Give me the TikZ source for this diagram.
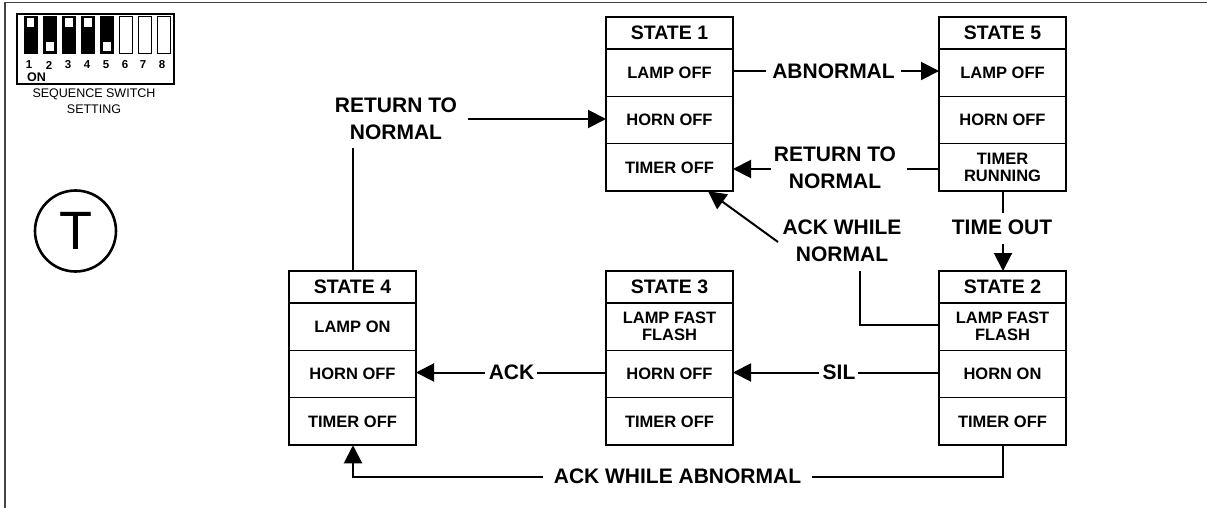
\documentclass[tikz,border=0pt]{standalone}
\usepackage{fontspec}
\setmainfont{Liberation Sans}
\usetikzlibrary{arrows.meta}
\definecolor{framegray}{HTML}{444444}
\tikzset{
  cell/.style={draw=black,line width=1.2pt,minimum width=127pt,minimum height=47.5pt,inner sep=0pt,outer sep=0pt,align=center,font=\bfseries\fontsize{16.5}{17.5}\selectfont},
  headcell/.style={cell,minimum height=32pt,font=\bfseries\fontsize{19.5}{21}\selectfont},
  boxframe/.style={draw=black,line width=2pt},
  conn/.style={draw=black,line width=2pt},
  arr/.style={conn,-{Triangle[length=18pt,width=18pt]}},
  lab/.style={inner sep=0pt,align=center,font=\bfseries\fontsize{21}{27}\selectfont},
  dipnum/.style={inner sep=0pt,font=\bfseries\fontsize{11.5}{12}\selectfont},
  dipsmall/.style={inner sep=0pt,align=center,font=\fontsize{12.5}{16}\selectfont},
  sw/.style={draw=black,line width=0.8pt,fill=white,minimum width=13.5pt,minimum height=37pt,inner sep=0pt},
  swon/.style={sw,fill=black},
  knob/.style={fill=white,draw=none,minimum width=7.5pt,minimum height=9pt,inner sep=0pt}
}
\newcommand{\statebox}[6]{%
  \node[headcell] (#1head) at (#2,#3+16) {#4};
  \node[cell] (#1lamp) at (#2,#3+55.5) {#5};
  \node[cell] (#1horn) at (#2,#3+103) {\strut};
  \node[cell] (#1timer) at (#2,#3+150.5) {#6};
  \draw[boxframe] (#1head.north west) rectangle (#1timer.south east);
  \draw[boxframe] (#1head.south west) -- (#1head.south east);
}
\begin{document}
\begin{tikzpicture}[x=1pt,y=-1pt]
\useasboundingbox (0,0) rectangle (1207,508);
\coordinate (ftl) at (5,2.5);
\coordinate (ftr) at (1207,2.5);
\coordinate (fbl) at (5,508);
\draw[framegray,line width=1.3pt] (fbl) -- (ftl) -- (ftr);

% DIP switch
\node[draw=black,line width=1.2pt,minimum width=157pt,minimum height=70pt,inner sep=0pt] (dip) at (95.5,49) {};
\foreach \n/\cx/\ky in {1/30.7/22.5,2/50/46.5,3/69/22.5,4/88/22.5,5/107/46.5}{
  \node[swon] (sw\n) at (\cx,34.5) {};
  \node[knob] (kn\n) at (\cx,\ky) {};
}
\foreach \n/\cx in {6/125.7,7/144.7,8/164}{
  \node[sw] (sw\n) at (\cx,34.5) {};
}
\foreach \n/\cx in {1/29,2/49,3/68,4/87,5/106,6/125,7/143,8/162}{
  \node[dipnum] (dn\n) at (\cx,65) {\n};
}
\node[dipnum,font=\bfseries\fontsize{12.5}{13}\selectfont] (don) at (36.5,77.5) {ON};
\node[dipsmall] (dtxt) at (94,101.5) {SEQUENCE SWITCH\\SETTING};

% T circle
\node[draw=black,line width=2.6pt,circle,minimum size=81pt,inner sep=0pt,font=\fontsize{54}{54}\selectfont] (tc) at (75.5,231) {T};

% State boxes
\statebox{sa}{669.5}{17}{STATE 1}{LAMP OFF}{TIMER OFF}
\statebox{se}{1002.5}{17}{STATE 5}{LAMP OFF}{\fontsize{16.5}{16.5}\selectfont TIMER\\RUNNING}
\statebox{sb}{1002.5}{271}{STATE 2}{LAMP FAST\\FLASH}{TIMER OFF}
\statebox{sc}{669.5}{271}{STATE 3}{LAMP FAST\\FLASH}{TIMER OFF}
\statebox{sd}{352.5}{271}{STATE 4}{LAMP ON}{TIMER OFF}
\node[cell,draw=none,fill=none] (t1) at (sahorn) {HORN OFF};
\node[cell,draw=none,fill=none] (t2) at (sehorn) {HORN OFF};
\node[cell,draw=none,fill=none] (t3) at (sbhorn) {HORN ON};
\node[cell,draw=none,fill=none] (t4) at (schorn) {HORN OFF};
\node[cell,draw=none,fill=none] (t5) at (sdhorn) {HORN OFF};

% Labels
\node[lab] (labn) at (833.5,71) {ABNORMAL};
\node[lab] (lrta) at (835,168) {RETURN TO\\NORMAL};
\node[lab] (ltime) at (1002,227) {TIME OUT};
\node[lab] (lack) at (842,241) {ACK WHILE\\NORMAL};
\node[lab] (lrtb) at (396,118.5) {RETURN TO\\NORMAL};
\node[lab] (lsil) at (839,372.5) {SIL};
\node[lab] (lak) at (511.5,372.5) {ACK};
\node[lab] (laa) at (677.5,476) {ACK WHILE ABNORMAL};

% Connector free ends
\coordinate (p1) at (766,71);
\coordinate (p2) at (901,71);
\coordinate (p3) at (907,169);
\coordinate (p4) at (771,169);
\coordinate (p5) at (1003,212.5);
\coordinate (p6) at (1003,244);
\coordinate (p7) at (860,271);
\coordinate (p8) at (778,242);
\coordinate (p9) at (353,148);
\coordinate (p10) at (468,119);
\coordinate (p11) at (858,372.5);
\coordinate (p12) at (819,372.5);
\coordinate (p13) at (537,372.5);
\coordinate (p14) at (485,372.5);
\coordinate (p15) at (812,477);
\coordinate (p16) at (543,477);

% Connectors
\draw[conn] (salamp.east |- p1) -- (p1);
\draw[arr] (p2) -- (selamp.west |- p2);
\draw[conn] (setimer.west |- p3) -- (p3);
\draw[arr] (p4) -- (satimer.east |- p4);
\draw[conn] (setimer.south -| p5) -- (p5);
\draw[arr] (p6) -- (sbhead.north -| p6);
\draw[conn] (sblamp.west |- 0,325) -- (p7 |- 0,325) -- (p7);
\draw[arr] (p8) -- (satimer.south -| 708,0);
\draw[conn] (sdhead.north -| p9) -- (p9);
\draw[arr] (p10) -- (sahorn.west |- p10);
\draw[conn] (sbhorn.west |- p11) -- (p11);
\draw[arr] (p12) -- (schorn.east |- p12);
\draw[conn] (schorn.west |- p13) -- (p13);
\draw[arr] (p14) -- (sdhorn.east |- p14);
\draw[conn] (sbtimer.south -| 1003,0) -- (1003,477) -- (p15);
\draw[arr] (p16) -- (353,477) -- (sdtimer.south -| 353,0);
\end{tikzpicture}
\end{document}
